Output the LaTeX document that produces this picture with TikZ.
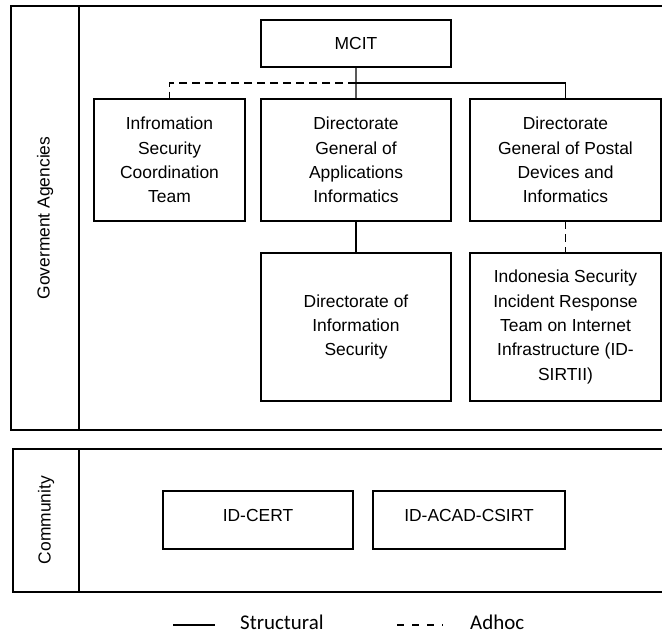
\documentclass[tikz,border=0pt]{standalone}
\usepackage{fontspec}
\setmainfont{Liberation Sans}
\newfontfamily\legendfont{Carlito}
\usetikzlibrary{positioning}
\tikzset{
	orgbox/.style   = {rectangle,draw,line width=1.3bp,align=center,
		inner sep=0pt,outer sep=0pt,
		font=\fontsize{17.5}{24.5}\selectfont},
	commbox/.style  = {orgbox,minimum height=58bp,
		text height=13bp,text depth=10bp},
	lane/.style     = {line width=1.4bp},
	lanelabel/.style= {rotate=90,font=\fontsize{17.5}{21}\selectfont},
	structural/.style = {line width=1.3bp},
	adhoc/.style    = {line width=1.3bp,dash pattern=on 8bp off 5bp},
	legline/.style  = {line width=1.3bp},
	legdash/.style  = {line width=1.3bp,dash pattern=on 6.5bp off 8.5bp},
	legtext/.style  = {anchor=base west,inner sep=0pt,
		font=\legendfont\fontsize{21}{25}\selectfont},
}

\begin{document}
\begin{tikzpicture}[x=1bp,y=-1bp]
	\useasboundingbox (0,0) rectangle (662,635);

	% lanes
	\draw[lane] (662,6) -| (11,430) -- (662,430);
	\draw[lane] (79,6) -- (79,430);
	\node (govlbl) [lanelabel] at (45,218) {Goverment Agencies};

	\draw[lane] (662,449) -| (13,592) -- (662,592);
	\draw[lane] (79,449) -- (79,592);
	\node (comlbl) [lanelabel] at (46,520) {Community};

	% government agencies
	\node (mcit) [orgbox,minimum width=190bp,minimum height=47bp] at (356,43.5) {MCIT};
	\node (isct) [orgbox,minimum width=151bp,minimum height=122bp] at (169.5,160)
	{Infromation\\Security\\Coordination\\Team};
	\node (dgai) [orgbox,minimum width=190bp,minimum height=122bp,right=16bp of isct]
	{Directorate\\General of\\Applications\\Informatics};
	\node (dgpd) [orgbox,minimum width=191bp,minimum height=122bp,right=19bp of dgai]
	{Directorate\\General of Postal\\Devices and\\Informatics};
	\node (dis) [orgbox,minimum width=190bp,minimum height=148bp,below=32bp of dgai]
	{Directorate of\\Information\\Security};
	\node (idsirtii) [orgbox,minimum width=191bp,minimum height=148bp,below=32bp of dgpd]
	{Indonesia Security\\Incident Response\\Team on Internet\\Infrastructure (ID-\\SIRTII)};

	\coordinate (busy) at (0,83);
	\draw[structural] (mcit.south) -- (dgai.north);
	\draw[structural] (mcit.south |- busy) -| (dgpd.north);
	\draw[adhoc] (mcit.south |- busy) -| (isct.north);
	\draw[structural] (dgai) -- (dis);
	\draw[adhoc] (dgpd) -- (idsirtii);

	% community
	\node (idcert) [commbox,minimum width=190bp] at (258,520) {ID-CERT};
	\node (idacad) [commbox,minimum width=192bp,right=20bp of idcert] {ID-ACAD-CSIRT};

	% legend
	\coordinate (ls1) at (173,625);
	\coordinate (ls2) at (215,625);
	\coordinate (la1) at (397,625);
	\coordinate (la2) at (443,625);
	\draw[legline] (ls1) -- (ls2);
	\draw[legdash] (la1) -- (la2);
	\node (legstruct) [legtext] at (240,629.5) {Structural};
	\node (legadhoc) [legtext] at (470,629.5) {Adhoc};
\end{tikzpicture}
\end{document}
